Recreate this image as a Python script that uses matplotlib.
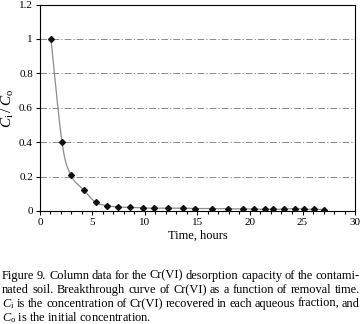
import numpy as np
import matplotlib
matplotlib.use("Agg")
import matplotlib.pyplot as plt
from matplotlib.ticker import MultipleLocator

# font setup (Times-like)
plt.rcParams['font.family'] = 'Liberation Serif'
plt.rcParams['mathtext.fontset'] = 'custom'
plt.rcParams['mathtext.rm'] = 'Liberation Serif'
plt.rcParams['mathtext.it'] = 'Liberation Serif:italic'

# data
time_h = [1.05, 2.1, 2.95, 4.15, 5.3, 6.4, 7.4, 8.6, 9.85, 10.9, 12.2, 13.6,
          14.8, 16.35, 17.9, 19.3, 20.4, 21.4, 22.2, 23.2, 24.3, 25.1, 26.1, 27.0]
ratio = [1.0, 0.40, 0.207, 0.124, 0.05, 0.031, 0.023, 0.021, 0.017, 0.016, 0.016, 0.016,
         0.014, 0.014, 0.012, 0.012, 0.010, 0.010, 0.010, 0.010, 0.014, 0.010, 0.010, 0.008]

caption = [
    "Figure 9. Column data for the Cr(VI) desorption capacity of the contami-",
    "nated soil. Breakthrough curve of Cr(VI) as a function of removal time.",
    r"$C_\mathrm{i}$ is the concentration of Cr(VI) recovered in each aqueous fraction, and",
    r"$C_\mathrm{o}$ is the initial concentration.",
]


def smooth(x, y, n=20):
    # Catmull-Rom curve through the points (like Excel's smoothed line)
    x = np.asarray(x, float)
    y = np.asarray(y, float)
    px = np.concatenate([[x[0]], x, [x[-1]]])
    py = np.concatenate([[y[0]], y, [y[-1]]])
    t = np.linspace(0, 1, n)[:, None]
    xs, ys = [], []
    for i in range(1, len(px) - 2):
        for p, out in ((px, xs), (py, ys)):
            p0, p1, p2, p3 = p[i - 1], p[i], p[i + 1], p[i + 2]
            c = 0.5 * ((2 * p1) + (-p0 + p2) * t + (2 * p0 - 5 * p1 + 4 * p2 - p3) * t ** 2
                       + (-p0 + 3 * p1 - 3 * p2 + p3) * t ** 3)
            out.append(c.ravel())
    return np.concatenate(xs), np.concatenate(ys)


fig = plt.figure(figsize=(3.63, 3.24), dpi=100)
ax = fig.add_axes([0.110, 0.349, 0.868, 0.637])

sx, sy = smooth(time_h, ratio)
ax.plot(sx, sy, color='#8c8c8c', lw=0.9, zorder=2)
ax.plot(time_h, ratio, linestyle='none', marker='D', ms=3.0, color='#111111', zorder=3)

ax.set_xlim(0, 30)
ax.set_ylim(0, 1.2)
ax.xaxis.set_major_locator(MultipleLocator(5))
ax.xaxis.set_minor_locator(MultipleLocator(1))
ax.set_yticks([0, 0.2, 0.4, 0.6, 0.8, 1.0, 1.2])
ax.set_yticklabels(['0', '0.2', '0.4', '0.6', '0.8', '1', '1.2'])
ax.tick_params(axis='both', which='major', direction='out', length=3, width=0.8,
               labelsize=8, pad=2)
ax.tick_params(axis='x', which='minor', direction='out', length=2, width=0.8)
ax.grid(axis='y', which='major', color='#777777', lw=0.6, dashes=(8, 2.5, 1.5, 2.5), zorder=1)
for s in ax.spines.values():
    s.set_linewidth(0.8)

ax.set_xlabel('Time, hours', fontsize=9, labelpad=2)
ax.set_ylabel(r'$C_\mathrm{i}\,/\;C_\mathrm{o}$', fontsize=11, labelpad=2)

# justified caption lines
fig.canvas.draw()
renderer = fig.canvas.get_renderer()
left, right = 2 / 363, 360 / 363
line_y = [275.7, 290.0, 304.0, 317.7]
for k, (line, ypx) in enumerate(zip(caption, line_y)):
    yf = 1 - ypx / 324
    words = line.split(' ')
    if k == len(caption) - 1:
        fig.text(left, yf, line, fontsize=8.9, va='center', ha='left')
        continue
    texts = [fig.text(0, yf, w, fontsize=8.9, va='center', ha='left') for w in words]
    widths = [t.get_window_extent(renderer).width / fig.bbox.width for t in texts]
    gap = (right - left - sum(widths)) / (len(words) - 1)
    xpos = left
    for t, w in zip(texts, widths):
        t.set_x(xpos)
        xpos += w + gap

fig.savefig('out.png', dpi=100)
